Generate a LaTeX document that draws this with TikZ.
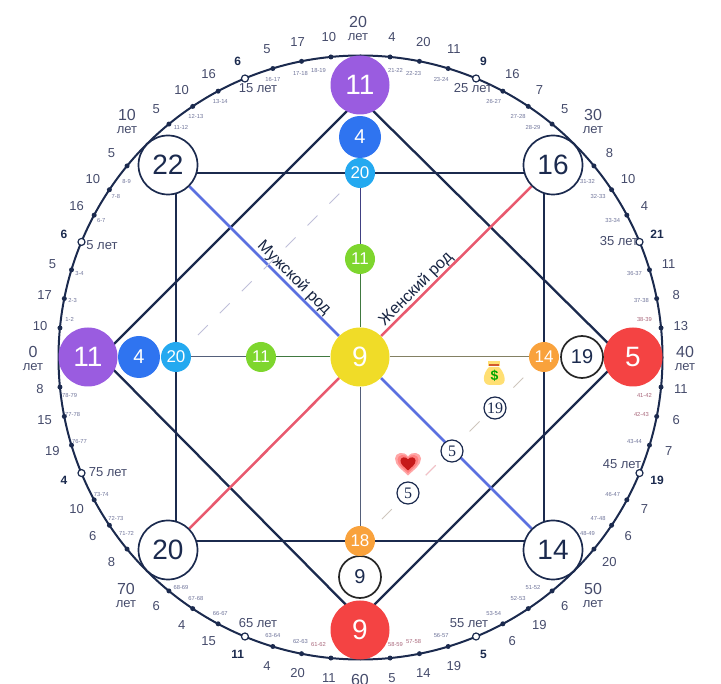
\documentclass[tikz,border=0pt]{standalone}
\usepackage{fontspec}
\setmainfont{Liberation Sans}
\newfontfamily\circfont{Liberation Serif}
\usetikzlibrary{backgrounds}
\newcommand{\pxfont}[1]{\fontsize{#1}{#1}\selectfont}
\definecolor{navy}{HTML}{1B2A4E}
\definecolor{valtext}{HTML}{454B6B}
\definecolor{rangetext}{HTML}{6E7399}
\definecolor{rangered}{HTML}{A8667A}
\definecolor{arcanapurple}{HTML}{9A5CE0}
\definecolor{arcanablue}{HTML}{2F74F0}
\definecolor{arcanacyan}{HTML}{24A9F0}
\definecolor{arcanagreen}{HTML}{7ED62E}
\definecolor{arcanayellow}{HTML}{F0DC28}
\definecolor{arcanared}{HTML}{F44343}
\definecolor{arcanaorange}{HTML}{F9A23C}
\definecolor{maleline}{HTML}{5B70E0}
\definecolor{femaleline}{HTML}{E8596E}

\begin{document}
\begin{tikzpicture}[
    x=1pt, y=-1pt,
    big/.style={circle, inner sep=0pt, minimum size=59pt, font=\pxfont{28}},
    mid/.style={circle, inner sep=0pt, minimum size=42pt, font=\pxfont{20}},
    small/.style={circle, inner sep=0pt, minimum size=30pt, font=\pxfont{17}},
    filled/.style={fill=#1, text=white},
    ring/.style={draw=navy, line width=1.7pt, fill=white, text=navy},
    tiny/.style={circle, draw=navy, line width=1.2pt, fill=white, text=navy,
                 inner sep=0pt, minimum size=22pt, font=\pxfont{16}\circfont},
    dot/.style={circle, fill=navy, inner sep=0pt, minimum size=5pt},
    opendot/.style={circle, draw=navy, line width=1.2pt, fill=white,
                    inner sep=0pt, minimum size=7pt},
    vallbl/.style={text=valtext, font=\pxfont{13}},
    boldlbl/.style={text=navy, font=\pxfont{12}\bfseries},
    agelbl/.style={text=valtext, font=\pxfont{16}},
    letlbl/.style={text=valtext, font=\pxfont{13}},
    yearlbl/.style={text=valtext, font=\pxfont{13}},
    rangelbl/.style={font=\pxfont{5.8}},
    frame/.style={navy, line width=2.3pt},
    axis/.style={line width=1pt},
    hint/.style={line width=1pt, dash pattern=on 14pt off 17pt},
    rodlbl/.style={text=navy!85!black, font=\pxfont{16}}
  ]
  \useasboundingbox (0,0) rectangle (721,684);
  \clip (0,0) rectangle (721,684);
  \coordinate (o) at (360.5,357.5);
  \coordinate (ro) at (357,357.5);

  % Age circle
  \draw[navy, line width=2pt] (o) circle[radius=302pt];

  % Marks, values and ranges, clockwise from 0
  \foreach \v [count=\i from 1] in {10,17,5,6,16,10,5,,5,10,16,6,5,17,10,,
      4,20,11,9,16,7,5,,8,10,4,21,11,8,13,,11,6,7,19,7,6,20,,
      6,19,6,5,19,14,5,,11,20,4,11,15,4,6,,8,6,10,4,19,15,8} {
    \pgfmathsetmacro{\ang}{180-\i*5.625}
    \pgfmathtruncatemacro{\yr}{\i*1.25}
    \pgfmathtruncatemacro{\nxt}{\yr+1}
    \pgfmathtruncatemacro{\rest}{mod(\i,8)}
    \pgfmathsetmacro{\rangeang}{\rest==1 ? \ang-2 : (\rest==7 ? \ang+2 : \ang)}
    \ifnum\rest=0\else
      \ifnum\rest=4
        \node[opendot] (mark\i) at ([shift={(\ang:302pt)}]o) {};
        \node[boldlbl] (val\i) at ([shift={(\ang:321pt)}]o) {\v};
      \else
        \node[dot] (mark\i) at ([shift={(\ang:302pt)}]o) {};
        \node[vallbl] (val\i) at ([shift={(\ang:322pt)}]o) {\v};
        \pgfmathsetmacro{\rangecol}{(\yr==38 || \yr==41 || \yr==42 || \yr==57 || \yr==58 || \yr==61) ? "rangered" : "rangetext"}
        \node[rangelbl, text=\rangecol] (range\i) at ([shift={(\rangeang:290pt)}]ro) {\yr-\nxt};
      \fi
    \fi
  }

  % Decades
  \foreach \a/\x/\y in {0/33/352,10/127/115,20/358/22,30/593/115,40/685/352,50/593/589,70/126/589} {
    \node[agelbl] (age\a) at (\x,\y) {\a};
    \node[letlbl] (let\a) at (\x,\y+15) {лет};
  }
  \node[agelbl] (age60) at (360,680) {60};

  % Five year labels
  \foreach \a/\x/\y in {5/102/245,15/258/88,25/473/88,35/619/241,45/622/464,55/469/623,65/258/623,75/108/472} {
    \node[yearlbl] (year\a) at (\x,\y) {\a{} лет};
  }

  % Square corners
  \coordinate (sqtl) at (176,173);
  \coordinate (sqbr) at (544,541);

  % Diamond corners
  \coordinate (dtop) at (360,98);
  \coordinate (dright) at (622,357);
  \coordinate (dbottom) at (360,619);
  \coordinate (dleft) at (101,357);

  % Main points
  \node[big, filled=arcanayellow] (center) at (360,357) {9};
  \node[big, filled=arcanapurple] (top) at (360,85) {11};
  \node[mid, filled=arcanablue] (top2) at (360,137) {4};
  \node[small, filled=arcanacyan] (top3) at (360,173) {20};
  \node[small, filled=arcanagreen] (top4) at (360,259) {11};
  \node[big, filled=arcanapurple] (left) at (88,357) {11};
  \node[mid, filled=arcanablue] (left2) at (139,357) {4};
  \node[small, filled=arcanacyan] (left3) at (176,357) {20};
  \node[small, filled=arcanagreen] (left4) at (261,357) {11};
  \node[big, filled=arcanared] (right) at (633,357) {5};
  \node[mid, ring, draw=black!85] (right2) at (582,357) {19};
  \node[small, filled=arcanaorange] (right3) at (544,357) {14};
  \node[big, filled=arcanared] (bottom) at (360,630) {9};
  \node[mid, ring, draw=black!85] (bottom2) at (360,577) {9};
  \node[small, filled=arcanaorange] (bottom3) at (360,541) {18};
  \node[big, ring] (tl) at (168,165) {22};
  \node[big, ring] (tr) at (553,165) {16};
  \node[big, ring] (bl) at (168,550) {20};
  \node[big, ring] (br) at (553,550) {14};

  % Lines under the points
  \begin{scope}[on background layer]
    \draw[frame] (sqtl) rectangle (sqbr);
    \draw[frame, line join=round] (dtop) -- (dright) -- (dbottom) -- (dleft) -- cycle;
    \draw[axis, color=blue!35!black!75] (top3) -- (top4);
    \draw[axis, color=green!30!black!75] (top4) -- (center);
    \draw[axis, color=navy!75] (center) -- (bottom3);
    \draw[axis, color=navy!75] (left3) -- (left4);
    \draw[axis, color=green!30!black!75] (left4) -- (center);
    \draw[axis, color=yellow!30!black!80] (center) -- (right3);
    \draw[maleline, line width=2.5pt] (tl) -- (center);
    \draw[maleline, line width=2.5pt] (center) -- (br);
    \draw[femaleline, line width=2.5pt] (tr) -- (center);
    \draw[femaleline, line width=2.5pt] (center) -- (bl);
    % Money and love lines
    \draw[hint, color=blue!25!gray!40] (left3.center) -- (top3.center);
    \draw[hint, color=brown!30!gray!45] (bottom3.center) -- (right3.center);
    \begin{scope}
      \clip (400,440) rectangle (445,500);
      \draw[hint, color=femaleline!40] (bottom3.center) -- (right3.center);
    \end{scope}
  \end{scope}

  \node[tiny] (money) at (495,408) {19};
  \node[tiny] (mid5) at (452,451) {5};
  \node[tiny] (love) at (408,493) {5};

  \node[rodlbl, rotate=-45] (male) at (294,278) {Мужской род};
  \node[rodlbl, rotate=45] (female) at (416,289) {Женский род};

  % Money bag
  \fill[orange!45!yellow!55] (489,367) .. controls (483,373) and (481,385) .. (490,385)
    -- (499,385) .. controls (508,385) and (505,373) .. (499,367) -- cycle;
  \fill[orange!45!yellow!55] (488,361) rectangle (500,366);
  \fill[brown!70!red] (489,364.5) rectangle (499,366);
  \node[text=green!65!black, font=\pxfont{14}\bfseries, inner sep=0pt] (dollar) at (494.5,376) {\$};

  % Heart
  \foreach \s/\c in {1/red!35,0.8/red!50,0.58/red!75!black!90} {
    \fill[\c, shift={(408,463.5)}, scale=\s] (0,12) .. controls (-6,6) and (-13,2) .. (-13,-5)
      .. controls (-13,-11) and (-4,-13) .. (0,-7) .. controls (4,-13) and (13,-11) .. (13,-5)
      .. controls (13,2) and (6,6) .. (0,12) -- cycle;
  }
\end{tikzpicture}
\end{document}
